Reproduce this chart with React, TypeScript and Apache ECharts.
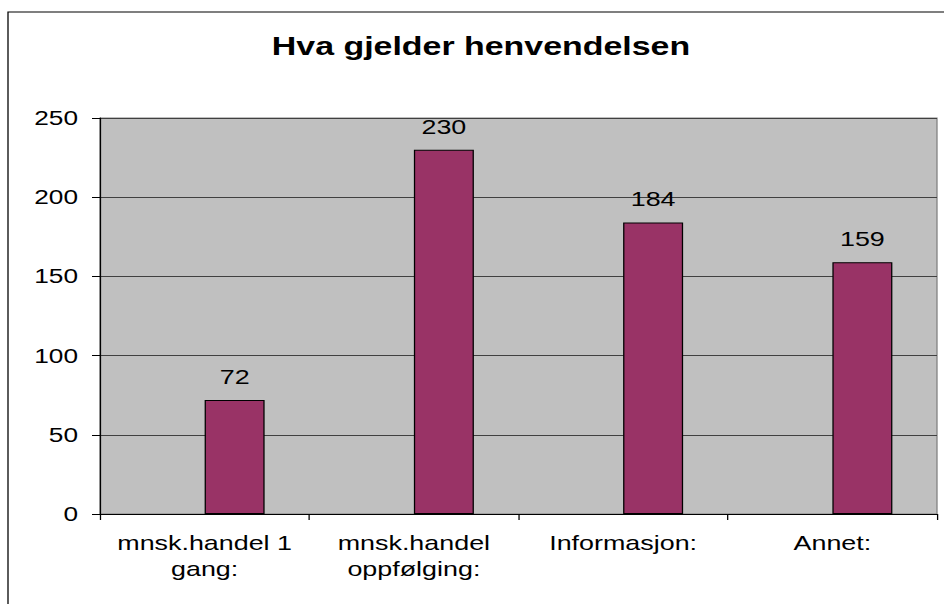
import React, { useEffect, useRef } from "react";
import * as echarts from "echarts";

const titleText = "Hva gjelder henvendelsen";
const categories = ["mnsk.handel 1\ngang:", "mnsk.handel\noppfølging:", "Informasjon:", "Annet:"];
const values = [72, 230, 184, 159];
const emptySeries = [null, null, null, null];
const yTicks = { min: 0, max: 250, interval: 50 };

const SX = 1.28; // horizontal stretch of the reference
const W = 944 / SX;
const px = (x: number) => x / SX;
const FONT = "Liberation Sans, Arial, sans-serif";

export default function App() {
  const ref = useRef<HTMLDivElement>(null);
  useEffect(() => {
    if (!ref.current) return;
    const chart = echarts.init(ref.current, undefined, { renderer: "svg" });
    chart.setOption({
      animation: false,
      backgroundColor: "#ffffff",
      textStyle: { fontFamily: FONT },
      title: {
        text: titleText,
        left: px(481),
        top: 32,
        textAlign: "center",
        padding: 0,
        textStyle: { fontSize: 26.5, fontWeight: "bold", color: "#000", fontFamily: FONT },
      },
      graphic: [
        {
          type: "rect",
          shape: { x: px(8), y: 12, width: 2000, height: 2000 },
          style: { fill: "none", stroke: "#000", lineWidth: 1 },
          silent: true,
          z: 100,
        },
      ],
      grid: {
        left: px(100),
        top: 118,
        width: px(937) - px(100),
        height: 396,
        show: true,
        backgroundColor: "#C0C0C0",
        borderColor: "#808080",
        borderWidth: 1,
        containLabel: false,
      },
      xAxis: {
        type: "category",
        data: categories,
        axisLine: { show: true, lineStyle: { color: "#000", width: 1 } },
        axisTick: { show: true, length: 6, lineStyle: { color: "#000" } },
        axisLabel: {
          color: "#000",
          fontSize: 21,
          lineHeight: 26,
          margin: 16,
          fontFamily: FONT,
          interval: 0,
        },
        splitLine: { show: false },
      },
      yAxis: {
        type: "value",
        min: yTicks.min,
        max: yTicks.max,
        interval: yTicks.interval,
        axisLine: { show: true, lineStyle: { color: "#000", width: 1 } },
        axisTick: { show: true, length: px(8), lineStyle: { color: "#000" } },
        axisLabel: { color: "#000", fontSize: 20.5, margin: px(22), fontFamily: FONT },
        splitLine: { show: true, lineStyle: { color: "#404040", width: 1 } },
      },
      series: [
        {
          type: "bar",
          data: emptySeries,
          barWidth: px(60),
          barGap: "0%",
        },
        {
          type: "bar",
          data: values,
          barWidth: px(60),
          barGap: "0%",
          itemStyle: { color: "#993366", borderColor: "#000", borderWidth: 1 },
          label: {
            show: true,
            position: "top",
            distance: 13,
            color: "#000",
            fontSize: 21,
            fontFamily: FONT,
          },
        },
      ],
    });
    return () => chart.dispose();
  }, []);
  return (
    <div
      ref={ref}
      style={{
        position: "absolute",
        left: 0,
        top: 0,
        width: W,
        height: 604,
        transform: `scaleX(${SX})`,
        transformOrigin: "0 0",
      }}
    />
  );
}
